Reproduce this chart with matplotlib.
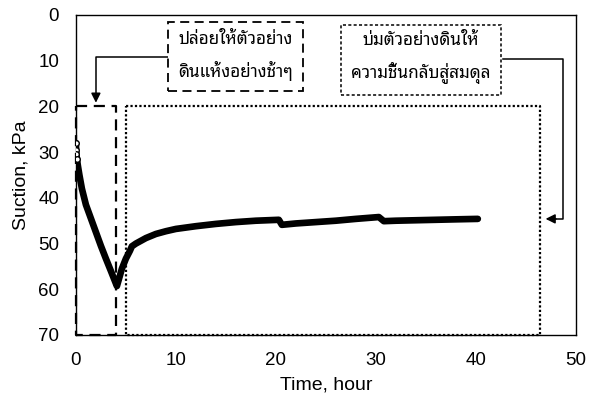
import matplotlib
matplotlib.use('Agg')
import matplotlib.pyplot as plt

plt.rcParams['font.family'] = ['Liberation Sans', 'DejaVu Sans']
thai = ['Noto Sans Thai Looped', 'Loma', 'Liberation Sans']

# suction readings (kPa) against time (hour)
time_h = [0, 0.02, 0.05, 0.1, 0.2, 0.35, 0.6, 1.0, 1.5, 2.0, 2.5, 3.0, 3.5, 4.1,
          4.3, 4.6, 5.0, 5.4, 5.6, 6.0, 7.0, 8.0, 9.0, 10.0, 12.0, 14.0, 16.0,
          18.0, 20.3, 20.6, 22.0, 24.0, 26.0, 28.0, 30.3, 30.8, 32.0, 34.0,
          36.0, 38.0, 40.2]
suction = [28.0, 29.5, 30.5, 31.5, 33.0, 35.0, 38.0, 41.5, 44.5, 47.5, 50.5, 53.3, 56.0, 59.3,
           57.8, 55.5, 53.3, 51.6, 50.6, 50.0, 48.8, 47.9, 47.3, 46.8, 46.2, 45.7, 45.3,
           45.0, 44.8, 45.9, 45.6, 45.3, 45.0, 44.6, 44.2, 45.1, 45.0, 44.9,
           44.8, 44.7, 44.6]

x_ticks = [0, 10, 20, 30, 40, 50]
y_ticks = [0, 10, 20, 30, 40, 50, 60, 70]

note_dry = 'ปล่อยให้ตัวอย่าง\nดินแห้งอย่างช้าๆ'
note_cure = 'บ่มตัวอย่างดินให้\nความชื้นกลับสู่สมดุล'

fig = plt.figure(figsize=(5.93, 4.01), dpi=100)
ax = fig.add_axes([0.128, 0.1646, 0.843, 0.798])

ax.plot(time_h, suction, color='black', lw=4.8, solid_capstyle='round',
        solid_joinstyle='round', zorder=3)
ax.plot(time_h[:4], suction[:4], 'o', color='black', mfc='white', ms=4, mew=1, zorder=4)

# drying stage (dashed) and curing stage (dotted) frames
ax.plot([0, 4.05, 4.05, 0, 0], [20, 20, 70, 70, 20], color='black', lw=1.6,
        ls=(0, (5, 3)), clip_on=False, zorder=2)
ax.plot([5.0, 46.4, 46.4, 5.0, 5.0], [20, 20, 70, 70, 20], color='black', lw=1.6,
        ls=(0, (1, 1)), clip_on=False, zorder=2)

# note boxes
ax.text(16.0, 9.1, note_dry, ha='center', va='center', fontsize=12.3, family=thai,
        linespacing=1.8,
        bbox=dict(boxstyle='square,pad=0.6', fc='white', ec='black', lw=1.3, ls=(0, (5, 3))))
ax.text(34.5, 9.6, note_cure, ha='center', va='center', fontsize=12.3, family=thai,
        linespacing=1.8,
        bbox=dict(boxstyle='square,pad=0.6', fc='white', ec='black', lw=1.1, ls=(0, (2, 1.5))))

# connectors
ax.plot([9.2, 2.0, 2.0], [9.2, 9.2, 17.5], color='black', lw=1.1, zorder=2)
ax.annotate('', xy=(2.0, 19.8), xytext=(2.0, 17.0),
            arrowprops=dict(arrowstyle='-|>', color='black', lw=1.1, mutation_scale=14))
ax.plot([42.7, 48.7, 48.7, 48.0], [9.6, 9.6, 44.6, 44.6], color='black', lw=1.1,
        zorder=2, clip_on=False)
ax.annotate('', xy=(46.7, 44.6), xytext=(48.3, 44.6),
            arrowprops=dict(arrowstyle='-|>', color='black', lw=1.1, mutation_scale=14))

ax.set_xlim(0, 50)
ax.set_ylim(70, 0)
ax.set_xticks(x_ticks)
ax.set_yticks(y_ticks)
ax.tick_params(length=0, labelsize=13.5)
ax.tick_params(axis='y', pad=12)
ax.tick_params(axis='x', pad=12)
for s in ax.spines.values():
    s.set_linewidth(1.0)
ax.set_xlabel('Time, hour', fontsize=14, labelpad=6)
ax.set_ylabel('Suction, kPa', fontsize=14, labelpad=6)

fig.savefig('out.png', dpi=100)
